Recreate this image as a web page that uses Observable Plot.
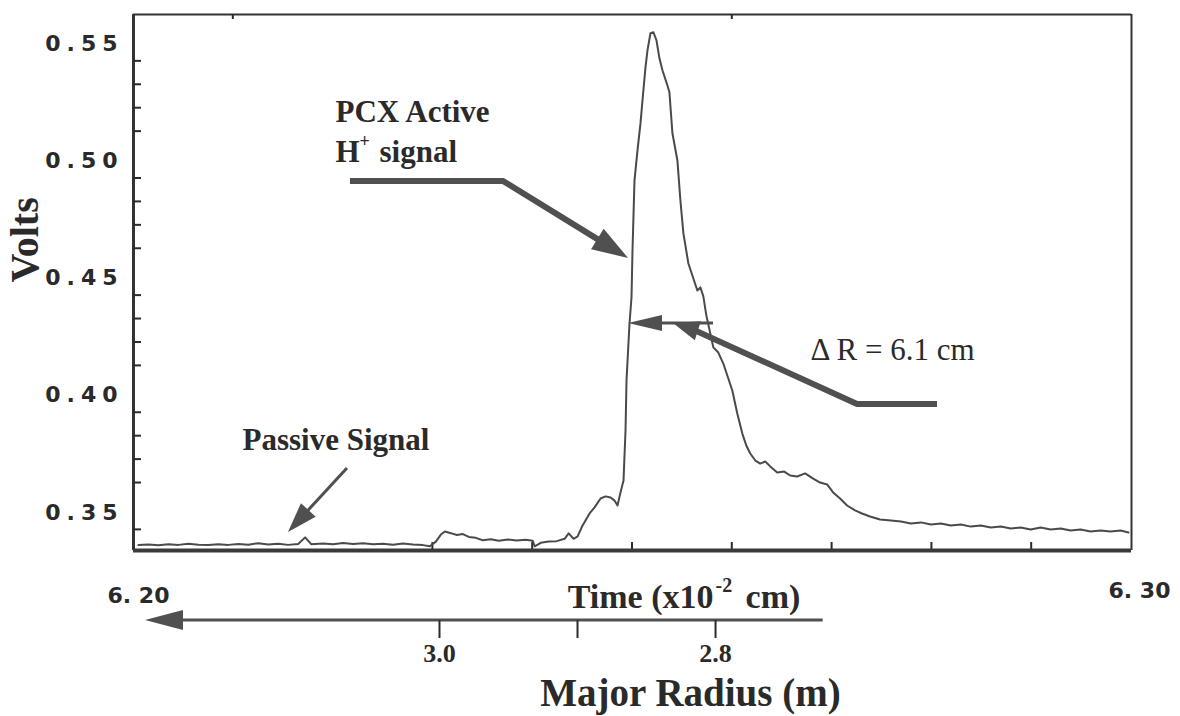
<!DOCTYPE html>
<html>
<head>
<meta charset="utf-8">
<script src="https://cdn.jsdelivr.net/npm/d3@7"></script>
<script src="https://cdn.jsdelivr.net/npm/@observablehq/plot@0.6"></script>
<style>
  html, body { margin: 0; padding: 0; background: #fff; }
  #chart { width: 1180px; height: 716px; }
</style>
</head>
<body>
<div id="chart"></div>
<script>
// PCX detector trace: time axis (x10^-2 cm, 6.20 – 6.30) against signal voltage
const time = [
  6.2005, 6.2015, 6.2025, 6.2035, 6.2045, 6.2055, 6.2065, 6.2075, 6.2085, 6.2095,
  6.2105, 6.2115, 6.2125, 6.2135, 6.2145, 6.2155, 6.2165, 6.2172, 6.2178, 6.2190,
  6.2200, 6.2210, 6.2220, 6.2230, 6.2240, 6.2250, 6.2260, 6.2270, 6.2280, 6.2290,
  6.2297, 6.2303, 6.2308, 6.2312, 6.2318, 6.2324, 6.2330, 6.2336, 6.2343, 6.2350,
  6.2358, 6.2366, 6.2375, 6.2384, 6.2393, 6.2400, 6.2402, 6.2408, 6.2416, 6.2424,
  6.2432, 6.2436, 6.2441, 6.2445, 6.2450, 6.2457, 6.2462, 6.2468, 6.2473, 6.2478,
  6.2482, 6.2485, 6.2488, 6.2491, 6.2493, 6.2494, 6.2497, 6.2499, 6.2500, 6.2502,
  6.2505, 6.2508, 6.2510, 6.2513, 6.2515, 6.2518, 6.2521, 6.2524, 6.2527, 6.2530,
  6.2535, 6.2537, 6.2540, 6.2545, 6.2548, 6.2551, 6.2556, 6.2560, 6.2565, 6.2568,
  6.2571, 6.2574, 6.2581, 6.2586, 6.2591, 6.2596, 6.2600, 6.2605, 6.2610, 6.2614,
  6.2618, 6.2623, 6.2628, 6.2633, 6.2638, 6.2645, 6.2652, 6.2658, 6.2665, 6.2673,
  6.2681, 6.2688, 6.2695, 6.2701, 6.2708, 6.2715, 6.2723, 6.2730, 6.2738, 6.2748,
  6.2759, 6.2769, 6.2779, 6.2789, 6.2799, 6.2809, 6.2819, 6.2829, 6.2839, 6.2849,
  6.2859, 6.2869, 6.2879, 6.2889, 6.2899, 6.2909, 6.2919, 6.2929, 6.2939, 6.2949,
  6.2959, 6.2969, 6.2979, 6.2989, 6.2997
];
const volts = [
  0.3335, 0.3338, 0.3334, 0.3339, 0.3336, 0.3341, 0.3337, 0.3335, 0.3339, 0.3336,
  0.3340, 0.3337, 0.3343, 0.3338, 0.3341, 0.3336, 0.3340, 0.3368, 0.3339, 0.3342,
  0.3339, 0.3344, 0.3340, 0.3343, 0.3339, 0.3341, 0.3337, 0.3342, 0.3338, 0.3335,
  0.3330, 0.3350, 0.3380, 0.3393, 0.3386, 0.3378, 0.3382, 0.3370, 0.3366, 0.3356,
  0.3360, 0.3354, 0.3359, 0.3355, 0.3358, 0.3354, 0.3330, 0.3345, 0.3350, 0.3352,
  0.3362, 0.3385, 0.3362, 0.3372, 0.3419, 0.3470, 0.3496, 0.3534, 0.3543, 0.3538,
  0.3525, 0.3504, 0.3560, 0.3611, 0.3824, 0.4038, 0.4281, 0.4392, 0.4593, 0.4892,
  0.5020, 0.5135, 0.5233, 0.5374, 0.5447, 0.5520, 0.5524, 0.5490, 0.5413, 0.5362,
  0.5297, 0.5268, 0.5093, 0.4977, 0.4806, 0.4666, 0.4537, 0.4486, 0.4422, 0.4435,
  0.4397, 0.4315, 0.4179, 0.4157, 0.4110, 0.4046, 0.3995, 0.3897, 0.3812, 0.3760,
  0.3726, 0.3696, 0.3683, 0.3692, 0.3671, 0.3645, 0.3649, 0.3632, 0.3628, 0.3641,
  0.3619, 0.3602, 0.3594, 0.3560, 0.3534, 0.3504, 0.3483, 0.3470, 0.3457, 0.3444,
  0.3440, 0.3436, 0.3427, 0.3432, 0.3423, 0.3427, 0.3419, 0.3423, 0.3414, 0.3419,
  0.3410, 0.3414, 0.3406, 0.3410, 0.3402, 0.3410, 0.3402, 0.3406, 0.3397, 0.3402,
  0.3393, 0.3397, 0.3393, 0.3397, 0.3389
];

// Axes
const xDomain = [6.20, 6.30];
const yDomain = [0.3312, 0.5600];
const yMajorTicks = [0.35, 0.40, 0.45, 0.50, 0.55];
const yMinorTicks = [0.34, 0.36, 0.37, 0.38, 0.39, 0.41, 0.42, 0.43, 0.44,
                     0.46, 0.47, 0.48, 0.49, 0.51, 0.52, 0.53, 0.54];
const xTopTicks = [6.21, 6.26];
const xBottomTicks = [6.23, 6.24, 6.25, 6.26, 6.27, 6.28, 6.29];
const timeEndLabels = [6.20, 6.30];

// Secondary axis: major radius (m), decreasing to the right
const radiusTicks = [3.0, 2.9, 2.8];
const radiusLabels = [3.0, 2.8];
const radiusArrowSpan = [2.722, 3.213];
const radiusAt = { r0: 3.0, t0: 6.23066, dtPerMetre: 0.1383 };
const radiusToTime = (r) => radiusAt.t0 + (radiusAt.r0 - r) * radiusAt.dtPerMetre;

// Annotation anchor points, in (time, volts)
const pcxArrow = [[6.22174, 0.48876], [6.23707, 0.48876], [6.24960, 0.45588]];
const deltaArrow = [[6.28056, 0.39354], [6.27255, 0.39354], [6.25601, 0.42556], [6.25411, 0.42813]];
const widthArrow = [[6.25812, 0.42813], [6.24960, 0.42813]];
const passiveArrow = [[6.22144, 0.36621], [6.21553, 0.33889]];

const SERIF = "'Liberation Serif', 'Times New Roman', serif";
const SANS = "'DejaVu Sans', 'Liberation Sans', sans-serif";
const INK = "#2a2a2a";
const ARROW = "#505050";
const TRACE = "#4a4a4a";

const trace = time.map((t, i) => ({ t, v: volts[i] }));

// Filled-head arrow drawn along a polyline given in data coordinates
function arrow(points, { width = 5, head = 30, half = 10, color = ARROW } = {}) {
  return (index, scales) => {
    const pts = points.map(([t, v]) => [scales.x(t), scales.y(v)]);
    const n = pts.length;
    const [x1, y1] = pts[n - 2];
    const [x2, y2] = pts[n - 1];
    const a = Math.atan2(y2 - y1, x2 - x1);
    const c = Math.cos(a), s = Math.sin(a);
    const shaft = [...pts.slice(0, -1), [x2 - c * head * 0.6, y2 - s * head * 0.6]];
    const g = d3.create("svg:g");
    g.append("path")
      .attr("d", d3.line()(shaft))
      .attr("fill", "none")
      .attr("stroke", color)
      .attr("stroke-width", width)
      .attr("stroke-linejoin", "miter");
    const hx = x2 - c * head, hy = y2 - s * head;
    g.append("path")
      .attr("d", `M${x2},${y2}L${hx - s * half},${hy + c * half}L${hx + s * half},${hy - c * half}Z`)
      .attr("fill", color);
    return g.node();
  };
}

// Short inward ticks on a frame side
function frameTicks(values, side, length, width = 2) {
  return (index, scales, channels, dims) => {
    const left = dims.marginLeft;
    const top = dims.marginTop;
    const bottom = dims.height - dims.marginBottom;
    const g = d3.create("svg:g").attr("stroke", INK).attr("stroke-width", width);
    for (const d of values) {
      if (side === "left") {
        const py = scales.y(d);
        g.append("line").attr("x1", left).attr("x2", left + length).attr("y1", py).attr("y2", py);
      } else {
        const px = scales.x(d);
        const y0 = side === "top" ? top : bottom;
        const y1 = side === "top" ? top + length : bottom - length;
        g.append("line").attr("x1", px).attr("x2", px).attr("y1", y0).attr("y2", y1);
      }
    }
    return g.node();
  };
}

const boldSerif = { fontFamily: SERIF, fontWeight: "bold", fill: INK };

const chart = Plot.plot({
  width: 1180,
  height: 716,
  marginLeft: 133,
  marginRight: 49,
  marginTop: 14,
  marginBottom: 166,
  x: { domain: xDomain, axis: null },
  y: { domain: yDomain },
  style: { background: "#fff", overflow: "visible" },
  marks: [
    // frame
    Plot.ruleX([xDomain[0]], { stroke: "#333", strokeWidth: 3 }),
    Plot.ruleX([xDomain[1]], { stroke: "#333", strokeWidth: 2 }),
    Plot.ruleY([yDomain[1]], { stroke: "#333", strokeWidth: 2 }),
    frameTicks(yMinorTicks, "left", 8),
    frameTicks(xTopTicks, "top", 5),
    frameTicks(xBottomTicks, "bottom", 8),

    Plot.axisY({
      ticks: yMajorTicks,
      tickSize: 0,
      tickPadding: 10,
      tickFormat: (d) => d.toFixed(2),
      fontSize: 22,
      fontWeight: "bold",
      fontFamily: SANS,
      fill: INK,
      dy: 6,
      label: null
    }),
    Plot.text(["Volts"], {
      frameAnchor: "left", dx: -108, rotate: -90,
      text: (d) => d, fontSize: 40, ...boldSerif
    }),

    // signal trace
    Plot.line(trace, { x: "t", y: "v", stroke: TRACE, strokeWidth: 2, strokeLinejoin: "round" }),
    Plot.ruleY([yDomain[0]], { stroke: "#3a3a3a", strokeWidth: 4 }),

    // annotations
    Plot.text(["PCX Active"], { x: 6.22024, y: 0.51822, text: (d) => d, textAnchor: "start", fontSize: 31, ...boldSerif }),
    Plot.text(["H"], { x: 6.22024, y: 0.50114, text: (d) => d, textAnchor: "start", fontSize: 31, ...boldSerif }),
    Plot.text(["+"], { x: 6.22265, y: 0.50114, dy: -11, text: (d) => d, textAnchor: "start", fontSize: 18, ...boldSerif }),
    Plot.text(["signal"], { x: 6.22465, y: 0.50114, text: (d) => d, textAnchor: "start", fontSize: 31, ...boldSerif }),
    arrow(pcxArrow, { width: 6, head: 36, half: 12 }),

    Plot.text(["\u0394 R = 6.1 cm"], { x: 6.26784, y: 0.41660, text: (d) => d, textAnchor: "start", fontSize: 31, fontFamily: SERIF, fill: INK }),
    arrow(widthArrow, { width: 3, head: 34, half: 8 }),
    arrow(deltaArrow, { width: 6, head: 26, half: 10 }),

    Plot.text(["Passive Signal"], { x: 6.21092, y: 0.37817, text: (d) => d, textAnchor: "start", fontSize: 31, ...boldSerif }),
    arrow(passiveArrow, { width: 3, head: 30, half: 10 }),

    // time axis end labels and title
    Plot.text([timeEndLabels[0]], { x: (d) => d, y: 0.31199, dx: 5, text: (d) => d.toFixed(2).replace(".", ". "), fontSize: 22, fontWeight: "bold", fontFamily: SANS, fill: INK }),
    Plot.text([timeEndLabels[1]], { x: (d) => d, y: 0.31412, dx: 8, text: (d) => d.toFixed(2).replace(".", ". "), fontSize: 22, fontWeight: "bold", fontFamily: SANS, fill: INK }),
    Plot.text(["Time (x10"], { x: 6.25812, y: 0.31113, text: (d) => d, textAnchor: "end", fontSize: 34, ...boldSerif }),
    Plot.text(["-2"], { x: 6.25832, y: 0.31113, dy: -12, text: (d) => d, textAnchor: "start", fontSize: 20, ...boldSerif }),
    Plot.text(["cm)"], { x: 6.26133, y: 0.31113, text: (d) => d, textAnchor: "start", fontSize: 34, ...boldSerif }),

    // major radius axis
    arrow(radiusArrowSpan.map((r) => [radiusToTime(r), 0.30131]), { width: 3, head: 38, half: 10 }),
    Plot.ruleX(radiusTicks, { x: radiusToTime, y1: 0.30131, y2: 0.29362, stroke: INK, strokeWidth: 2 }),
    Plot.text(radiusLabels, { x: radiusToTime, y: 0.28722, text: (d) => d.toFixed(1), fontSize: 26, ...boldSerif }),
    Plot.text(["Major Radius (m)"], { x: 6.25581, y: 0.27014, text: (d) => d, fontSize: 39, ...boldSerif })
  ]
});

d3.select(chart).selectAll('[aria-label="y-axis tick label"] text').attr("letter-spacing", "6px");
document.getElementById("chart").append(chart);
</script>
</body>
</html>
